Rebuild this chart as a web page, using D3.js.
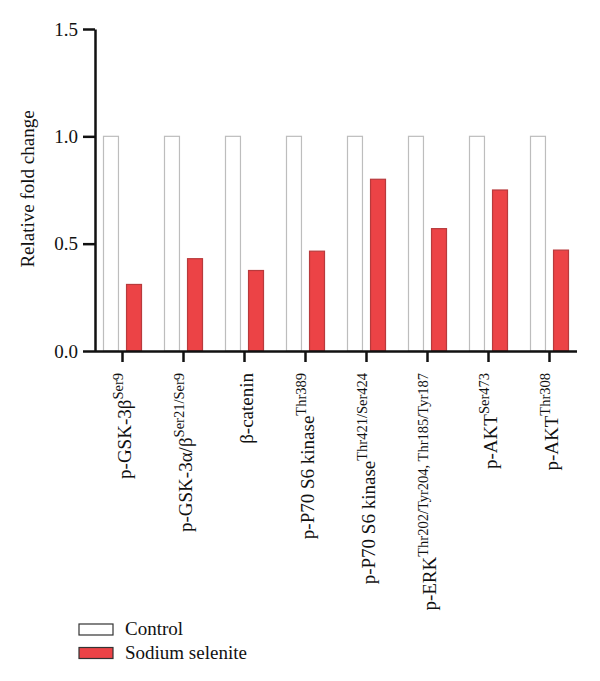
<!DOCTYPE html>
<html lang="en">
<head>
    <meta charset="UTF-8" />
    <title>Relative fold change</title>
    <script src="https://d3js.org/d3.v7.min.js"></script>
    <style>
        body {
            margin: 0;
            background: white;
        }

        .axis path,
        .axis line {
            stroke: #111;
            stroke-width: 2.5px;
        }
    </style>
</head>
<body>
    <div id="chart"></div>

    <script>
        // data
        const categories = [
            "p-GSK-3β", "p-GSK-3α/β", "β-catenin", "p-P70 S6 kinase",
            "p-P70 S6 kinase ", "p-ERK", "p-AKT", "p-AKT "
        ];
        const superscripts = [
            "Ser9", "Ser21/Ser9", "", "Thr389",
            "Thr421/Ser424", "Thr202/Tyr204, Thr185/Tyr187", "Ser473", "Thr308"
        ];
        const seriesNames = ["Control", "Sodium selenite"];
        const controlValues = [1, 1, 1, 1, 1, 1, 1, 1];
        const seleniteValues = [0.31, 0.43, 0.375, 0.465, 0.80, 0.57, 0.75, 0.47];
        const yTicks = [0, 0.5, 1.0, 1.5];

        const colors = { "Control": "#ffffff", "Sodium selenite": "#ec4346" };
        const strokes = { "Control": "#bdbdbd", "Sodium selenite": "#b83a3c" };
        const font = "Liberation Serif, Times New Roman, serif";

        const width = 600, height = 681;

        const svg = d3.select("#chart")
            .append("svg")
            .attr("width", width)
            .attr("height", height)
            .attr("font-family", font);

        const x = d3.scaleBand()
            .domain(categories)
            .range([92, 580]);

        const x1 = d3.scaleBand()
            .domain(seriesNames)
            .range([-19, 19])
            .paddingInner(0.35);

        const y = d3.scaleLinear()
            .domain([0, 1.5])
            .range([351, 29]);

        // bars
        const rows = categories.map((c, i) => ({
            cat: c,
            values: [
                { series: "Control", value: controlValues[i] },
                { series: "Sodium selenite", value: seleniteValues[i] }
            ]
        }));

        const groups = svg.selectAll(".group")
            .data(rows)
            .enter().append("g")
            .attr("class", "group")
            .attr("transform", d => `translate(${x(d.cat) + x.bandwidth() / 2},0)`);

        groups.selectAll("rect")
            .data(d => d.values)
            .enter().append("rect")
            .attr("x", d => x1(d.series))
            .attr("width", x1.bandwidth())
            .attr("y", d => y(d.value))
            .attr("height", d => y(0) - y(d.value))
            .attr("fill", d => colors[d.series])
            .attr("stroke", d => strokes[d.series])
            .attr("stroke-width", 1.2);

        // y axis
        const yAxisG = svg.append("g")
            .attr("class", "axis")
            .attr("transform", "translate(95,0)")
            .call(d3.axisLeft(y).tickValues(yTicks).tickFormat(d3.format(".1f"))
                .tickSize(12).tickSizeOuter(0).tickPadding(5));
        yAxisG.attr("font-family", font).attr("font-size", 19);
        yAxisG.selectAll("text").attr("fill", "#111");

        // x axis
        const xAxisG = svg.append("g")
            .attr("class", "axis")
            .attr("transform", "translate(0,351)")
            .call(d3.axisBottom(x).tickSize(11).tickSizeOuter(0).tickFormat(""));
        xAxisG.select(".domain").attr("d", "M95,0.5H577");

        // rotated category labels with superscripts
        categories.forEach((c, i) => {
            const cx = x(c) + x.bandwidth() / 2 + 8;
            const t = svg.append("text")
                .attr("transform", `translate(${cx},373) rotate(-90)`)
                .attr("text-anchor", "end")
                .attr("font-family", font)
                .attr("font-size", 19)
                .attr("fill", "#111");
            t.append("tspan").text(c.trim());
            if (superscripts[i]) {
                t.append("tspan")
                    .attr("dy", "-0.5em")
                    .attr("font-size", 14.5)
                    .text(superscripts[i]);
            }
        });

        // y axis title
        svg.append("text")
            .attr("transform", "translate(34,189) rotate(-90)")
            .attr("text-anchor", "middle")
            .attr("font-family", font)
            .attr("font-size", 19)
            .attr("fill", "#111")
            .text("Relative fold change");

        // legend
        const legend = svg.append("g")
            .attr("transform", "translate(79,624)");

        seriesNames.forEach((s, i) => {
            const item = legend.append("g")
                .attr("transform", `translate(0,${i * 23.5})`);
            item.append("rect")
                .attr("width", 34)
                .attr("height", 11)
                .attr("fill", colors[s])
                .attr("stroke", "#333")
                .attr("stroke-width", 1.2);
            item.append("text")
                .attr("x", 46)
                .attr("y", 11)
                .attr("font-family", font)
                .attr("font-size", 19)
                .attr("fill", "#111")
                .text(s);
        });
    </script>
</body>
</html>
